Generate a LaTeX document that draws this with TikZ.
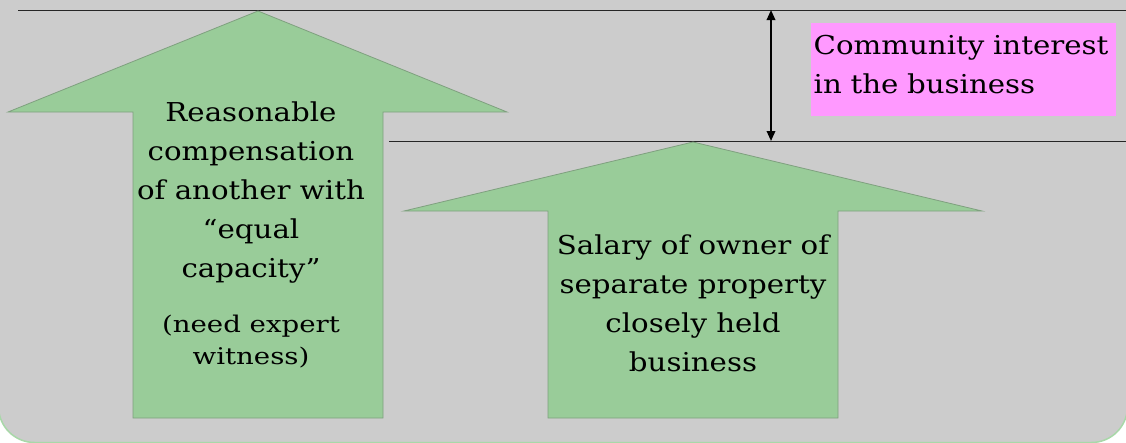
\documentclass[tikz,border=0pt]{standalone}
\usepackage{fontspec}
\setmainfont{DejaVu Serif}
\newfontfamily\bigface[FakeStretch=1.125]{DejaVu Serif}
\newfontfamily\smallface[FakeStretch=1.2]{DejaVu Serif}
\usetikzlibrary{arrows.meta}
\definecolor{bggray}{HTML}{CCCCCC}
\definecolor{arrowgreen}{HTML}{99CC99}
\definecolor{arrowedge}{HTML}{7FA07F}
\definecolor{bgedge}{HTML}{A8D8A8}
\definecolor{pinkbox}{HTML}{FF99FF}
\tikzset{
  bigarrow/.style={fill=arrowgreen, draw=arrowedge, line width=0.8pt, line join=miter},
  levelline/.style={draw=black!85, line width=0.9pt},
  bigtext/.style={font=\bigface\fontsize{26}{39}\selectfont, align=center, inner sep=0pt},
  smalltext/.style={font=\smallface\fontsize{23}{32}\selectfont, align=center, inner sep=0pt},
  labelbox/.style={fill=pinkbox, font=\bigface\fontsize{26}{39}\selectfont, align=left,
    text width=300pt, minimum height=93pt, inner xsep=2.5pt, inner ysep=0pt, anchor=north west},
  span/.style={draw=black, line width=1.8pt, {Triangle[length=10pt,width=8.5pt]}-{Triangle[length=10pt,width=8.5pt]}}
}
\begin{document}
\begin{tikzpicture}[x=1pt,y=-1pt]
\useasboundingbox (0,0) rectangle (1126,442);
\fill[white] (0,0) rectangle (1126,442);
\begin{scope}
  \clip (0,0) rectangle (1126,442);
  \draw[fill=bggray, draw=bgedge, line width=1.5pt, rounded corners=36pt] (-1.5,-60) rectangle (1127.5,442.5);
\end{scope}
% level lines
\coordinate (topL) at (18,10);
\coordinate (topR) at (1126,10);
\coordinate (midL) at (389,141);
\coordinate (midR) at (1126,141);
\draw[levelline] (topL) -- (topR);
\draw[levelline] (midL) -- (midR);
% left arrow
\draw[bigarrow] (258,11) -- (507,112) -- (383,112) -- (383,418) -- (133,418) -- (133,112) -- (8,112) -- cycle;
% right arrow
\draw[bigarrow] (693,142) -- (982,211) -- (838,211) -- (838,418) -- (548,418) -- (548,211) -- (404,211) -- cycle;
% span arrow
\coordinate (spanTop) at (771,10);
\coordinate (spanBot) at (771,141);
\draw[span] (spanTop) -- (spanBot);
% texts
\node[bigtext] (reason) at (251,193) {Reasonable\\compensation\\of another with\\“equal\\capacity”};
\node[smalltext] (expert) at (251,342) {(need expert\\witness)};
\node[bigtext] (salary) at (693,303) {Salary of owner of\\separate property\\closely held\\business};
\node[labelbox] (community) at (811,23) {Community interest\\in the business\rule[-11pt]{0pt}{0pt}};
\end{tikzpicture}
\end{document}
